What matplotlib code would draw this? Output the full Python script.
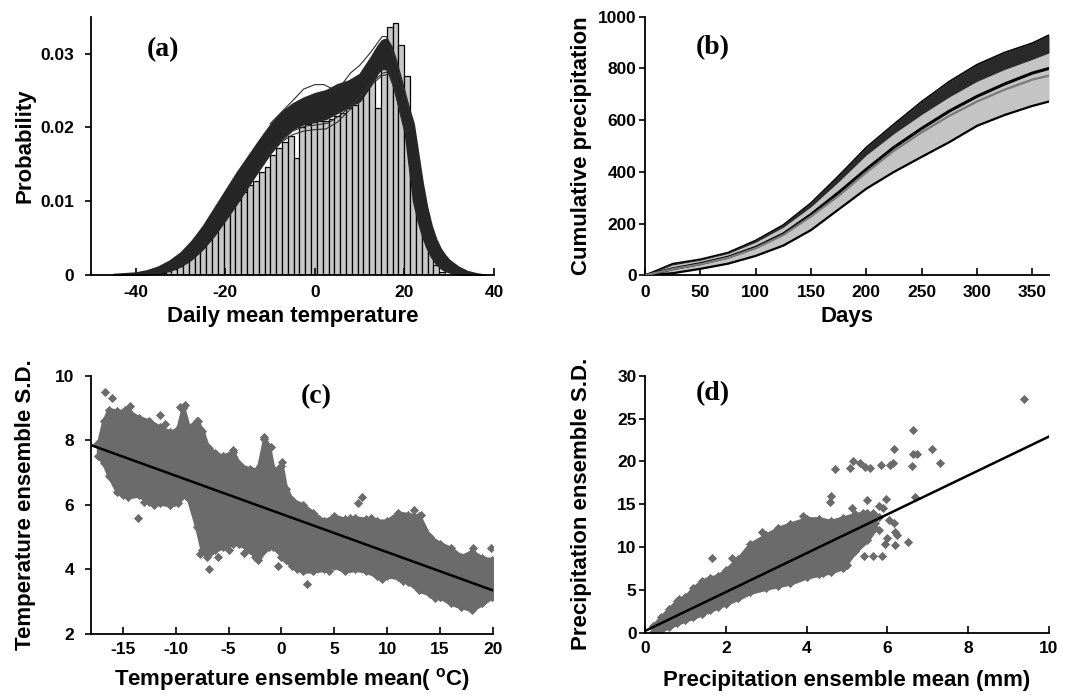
import numpy as np
import matplotlib
matplotlib.use("Agg")
import matplotlib.pyplot as plt
from matplotlib.font_manager import FontProperties

plt.rcParams['axes.unicode_minus'] = False
plt.rcParams['mathtext.fontset'] = 'custom'
plt.rcParams['mathtext.rm'] = 'Liberation Sans:bold'
plt.rcParams['mathtext.bf'] = 'Liberation Sans:bold'
plt.rcParams['mathtext.it'] = 'Liberation Sans:bold'

# ---------------- (a) histogram + ensemble PDFs ----------------
hist_start = -36.6
hist_width = 1.3
hist_heights = [0.0001, 0.0002, 0.0003, 0.0005, 0.0008, 0.0012, 0.0017, 0.0024,
                0.0031, 0.0040, 0.0050, 0.0060, 0.0070, 0.0081, 0.0092, 0.0102,
                0.0112, 0.0122, 0.0127, 0.0140, 0.0147, 0.0163, 0.0172, 0.0180,
                0.0188, 0.0158, 0.0200, 0.0205, 0.0207, 0.0208, 0.0209, 0.0212,
                0.0216, 0.0220, 0.0226, 0.0231, 0.0245, 0.0258, 0.0268, 0.0226,
                0.0279, 0.0336, 0.0342, 0.0311, 0.0270, 0.0180, 0.0100, 0.0062,
                0.0031, 0.0013, 0.0004]

band_x = [-45, -40, -37.5, -35, -32.5, -30, -27.5, -25, -22.5, -20, -17.5, -15,
          -12.5, -10, -7.5, -5, -2.5, 0, 2.5, 5, 7.5, 10, 12.5, 14, 15, 16, 17,
          18, 19, 20, 21, 22, 23, 24, 25, 26, 27, 28, 29, 30, 32, 34, 36, 38]
band_hi = [0.0001, 0.0003, 0.0006, 0.0011, 0.0019, 0.0030, 0.0046, 0.0066,
           0.0090, 0.0114, 0.0138, 0.0160, 0.0182, 0.0203, 0.0220, 0.0232,
           0.0240, 0.0246, 0.0250, 0.0258, 0.0263, 0.0272, 0.0295, 0.0310,
           0.0318, 0.0320, 0.0310, 0.0292, 0.0270, 0.0247, 0.0225, 0.0205,
           0.0165, 0.0125, 0.0092, 0.0067, 0.0049, 0.0036, 0.0027, 0.0020,
           0.0011, 0.0005, 0.0002, 0.0]
band_lo = [0.0, 0.0, 0.0001, 0.0003, 0.0006, 0.0012, 0.0022, 0.0036, 0.0054,
           0.0075, 0.0097, 0.0120, 0.0143, 0.0165, 0.0185, 0.0198, 0.0205,
           0.0208, 0.0212, 0.0220, 0.0228, 0.0236, 0.0258, 0.0274, 0.0280,
           0.0280, 0.0268, 0.0245, 0.0222, 0.0200, 0.0150, 0.0100, 0.0074,
           0.0053, 0.0037, 0.0025, 0.0016, 0.0010, 0.0006, 0.0004, 0.0001,
           0.0, 0.0, 0.0]

outA_x = [-10, -5, -2.5, 0, 2, 4, 6, 8, 10, 12.5, 15, 16, 17, 18, 20, 22]
outA_y = [0.0205, 0.0236, 0.0252, 0.0258, 0.0258, 0.0252, 0.0258, 0.0274,
          0.0284, 0.0302, 0.0323, 0.0323, 0.0310, 0.0290, 0.0250, 0.0200]
outB_x = [-12.5, -10, -7.5, -5, -2.5, 0, 2.5, 5, 7.5, 10, 12.5, 15, 16.5, 18, 19, 20]
outB_y = [0.0143, 0.0163, 0.0180, 0.0190, 0.0195, 0.0197, 0.0198, 0.0207,
          0.0222, 0.0240, 0.0260, 0.0273, 0.0276, 0.0250, 0.0220, 0.0195]
outC_x = [-10, -5, -2, 0, 3, 6, 9, 12, 15, 16.5, 18, 20]
outC_y = [0.0166, 0.0195, 0.0202, 0.0203, 0.0206, 0.0218, 0.0235, 0.0255,
          0.0270, 0.0272, 0.0248, 0.0198]

# ---------------- (b) cumulative precipitation ----------------
days = [0, 25, 50, 75, 100, 125, 150, 175, 200, 225, 250, 275, 300, 325, 350, 365]
prec_dark_top = [0, 45, 62, 88, 135, 195, 280, 385, 495, 585, 672, 750, 815, 862, 898, 929]
prec_gray_top = [0, 40, 58, 84, 128, 186, 265, 362, 465, 548, 622, 690, 750, 796, 835, 860]
prec_mean = [0, 25, 45, 70, 108, 160, 235, 320, 410, 495, 568, 635, 692, 740, 782, 800]
prec_obs = [0, 24, 43, 68, 105, 156, 228, 308, 398, 482, 553, 617, 672, 718, 757, 772]
prec_low = [0, 8, 25, 45, 75, 115, 175, 255, 335, 400, 458, 515, 578, 620, 655, 672]

# ---------------- (c) temperature mean vs S.D. ----------------
tc_x = [-17.3, -16.8, -16.3, -15.5, -14.5, -13.5, -12.5, -11.5, -10.5, -9.8,
        -9.3, -8.8, -8.0, -7.5, -7.0, -6.3, -5.5, -4.6, -4.0, -3.0, -2.2, -1.6,
        -1.2, -0.8, -0.3, 0.0, 0.4, 1.0, 2.0, 3.0, 4.0, 5.0, 6.0, 7.0, 8.0, 9.0,
        10.0, 11.0, 12.0, 13.0, 14.0, 15.0, 16.0, 17.0, 18.0, 19.0, 19.9]
tc_hi = [7.9, 8.6, 8.95, 8.9, 8.9, 8.7, 8.6, 8.4, 8.25, 8.35, 9.0, 8.4, 8.6,
         8.3, 7.8, 7.6, 7.5, 7.65, 7.25, 7.1, 7.1, 8.05, 7.8, 7.1, 7.1, 7.2,
         6.5, 6.15, 6.0, 5.75, 5.5, 5.65, 5.55, 5.6, 5.55, 5.5, 5.5, 5.75, 5.7,
         5.65, 5.0, 4.8, 4.65, 4.4, 4.55, 4.35, 4.3]
tc_lo = [7.5, 7.3, 6.9, 6.4, 6.25, 6.3, 6.1, 6.05, 6.0, 6.05, 6.3, 6.2, 5.3,
         4.6, 4.4, 4.6, 4.7, 4.8, 4.8, 4.6, 4.3, 4.6, 4.7, 4.7, 4.6, 4.4, 4.3,
         4.1, 3.95, 3.95, 4.0, 4.1, 3.95, 4.0, 3.95, 3.8, 3.8, 3.75, 3.6, 3.35,
         3.25, 3.15, 2.95, 2.85, 2.75, 2.95, 3.15]
tc_pts_x = [-16.7, -16.0, -14.3, -11.5, -9.6, -9.1, -7.9, -7.7, -6.8, -4.55,
            -1.6, -0.95, 0.1, -13.6, -6.8, -7.7, -2.5, -0.3, 2.4, 7.6, 7.25,
            19.8, 18.1, 17.9, 15.0, -17.4, -15.0, -12.0, -10.2, -8.4, 12.5, 13.2,
            -14.8, -13.0, -11.0, -5.0, -3.5, 1.5, 4.5, 6.5, 9.5, 11.5, 16.5, 3.5,
            -6.0, -2.0, 8.5, 14.5]
tc_pts_y = [9.5, 9.3, 9.05, 8.78, 9.04, 9.1, 8.6, 8.35, 7.75, 7.7, 8.1, 7.8,
            7.33, 5.58, 4.0, 4.47, 4.4, 4.1, 3.55, 6.25, 6.05, 4.65, 4.65, 2.85,
            3.15, 7.9, 6.3, 6.0, 6.1, 6.4, 5.85, 5.7,
            8.95, 6.1, 8.5, 4.6, 4.5, 4.0, 3.95, 5.6, 3.7, 3.65, 2.95, 5.45,
            4.4, 7.2, 5.6, 3.1]
tc_reg_x = [-18, 20]
tc_reg_y = [7.85, 3.35]

# ---------------- (d) precipitation mean vs S.D. ----------------
pd_x = [0.2, 0.4, 0.6, 0.8, 1.0, 1.2, 1.4, 1.6, 1.8, 2.0, 2.3, 2.6, 3.0, 3.3,
        3.6, 4.0, 4.3, 4.6, 4.9, 5.2, 5.5, 5.7]
pd_hi = [0.8, 1.8, 2.8, 3.7, 4.2, 5.2, 6.0, 6.4, 6.6, 7.3, 8.6, 10.3, 11.4,
         12.2, 12.7, 13.3, 13.3, 13.0, 13.4, 13.8, 14.0, 13.6]
pd_lo = [0.1, 0.3, 0.7, 1.1, 1.5, 1.8, 2.2, 2.6, 3.0, 3.4, 4.0, 4.7, 5.2, 5.5,
         5.8, 6.5, 6.8, 7.1, 7.6, 9.5, 10.8, 12.2]
pd_pts_x = [1.65, 2.15, 4.6, 4.58, 4.7, 5.07, 5.15, 5.32, 5.45, 5.57, 5.84,
            6.06, 6.15, 6.17, 6.64, 6.62, 6.64, 6.74, 7.1, 7.3, 9.39, 5.96,
            6.68, 5.12, 5.4, 5.49, 6.17, 6.2, 6.23, 6.5, 6.2, 5.94, 5.86, 5.65,
            5.43, 5.26, 4.77, 5.0, 5.7, 5.78, 5.98, 5.65, 5.78, 5.2, 0.85, 1.1,
            5.9, 6.05, 5.8, 4.4, 3.9, 2.9]
pd_pts_y = [8.7, 8.7, 15.9, 15.3, 19.1, 19.2, 20.1, 19.8, 19.4, 19.2, 19.6,
            19.6, 19.8, 21.5, 23.7, 19.5, 20.9, 20.9, 21.4, 19.8, 27.3, 15.6,
            15.8, 14.5, 14.0, 15.5, 12.8, 11.8, 11.4, 10.6, 10.2, 10.4, 8.9, 8.9,
            9.0, 10.2, 8.2, 7.9, 12.8, 12.0, 11.0, 14.0, 13.5, 12.4, 3.9, 4.3,
            14.5, 13.2, 14.8, 7.0, 13.6, 11.8]
pd_reg_x = [0, 10]
pd_reg_y = [0.2, 22.9]

# ---------------- figure ----------------
W, H = 1089, 696
fig = plt.figure(figsize=(W / 100, H / 100), dpi=100)
axA = fig.add_axes([91 / W, (H - 275) / H, 403 / W, 258.3 / H])
axB = fig.add_axes([645 / W, (H - 275.3) / H, 404 / W, 258.6 / H])
axC = fig.add_axes([91 / W, (H - 634) / H, 402 / W, 258.3 / H])
axD = fig.add_axes([645 / W, (H - 632.7) / H, 404 / W, 257 / H])

tick_fp = FontProperties(family=['Liberation Sans Narrow', 'Liberation Sans', 'DejaVu Sans'],
                         weight='bold', size=12.5)
lab_fp = FontProperties(family=['Liberation Sans', 'DejaVu Sans'], weight='bold', size=16)
pan_fp = FontProperties(family=['Liberation Serif', 'DejaVu Serif'], weight='bold', size=20)
scat_col = '#6b6b6b'


def style(ax, xpad, ypad):
    for s in ['top', 'right']:
        ax.spines[s].set_visible(False)
    for s in ['left', 'bottom']:
        ax.spines[s].set_linewidth(1.3)
    ax.tick_params(axis='x', direction='in', length=5, width=1.2, pad=xpad)
    ax.tick_params(axis='y', direction='out', length=4, width=1.2, pad=ypad)
    for lab in ax.get_xticklabels() + ax.get_yticklabels():
        lab.set_fontproperties(tick_fp)


# (a)
centers = hist_start + hist_width * np.arange(len(hist_heights))
axA.bar(centers, hist_heights, width=hist_width, color='#c8c8c8',
        edgecolor='black', linewidth=0.9, zorder=1)
axA.fill_between(band_x, band_lo, band_hi, color='#262626', edgecolor='#262626',
                 linewidth=1.5, zorder=2)
for ox, oy in [(outA_x, outA_y), (outB_x, outB_y), (outC_x, outC_y)]:
    axA.plot(ox, oy, color='#2e2e2e', lw=0.8, zorder=3)
axA.set_xlim(-50, 40)
axA.set_ylim(0, 0.035)
axA.set_xticks([-40, -20, 0, 20, 40])
axA.set_yticks([0, 0.01, 0.02, 0.03])
axA.set_yticklabels(['0', '0.01', '0.02', '0.03'])
style(axA, 7, 8)
axA.set_xlabel('Daily mean temperature', fontproperties=lab_fp)
axA.xaxis.set_label_coords(0.5, -0.161)
axA.xaxis.label.set_va('center')
axA.set_ylabel('Probability', fontproperties=lab_fp)
axA.yaxis.set_label_coords(-0.164, 0.5)
axA.yaxis.label.set_va('center')
axA.text(0.179, 0.871, '(a)', transform=axA.transAxes, fontproperties=pan_fp,
         ha='center', va='center')

# (b)
axB.fill_between(days, prec_low, prec_gray_top, color='#c4c4c4', lw=0, zorder=1)
axB.fill_between(days, prec_gray_top, prec_dark_top, color='#2a2a2a', lw=0, zorder=2)
axB.plot(days, prec_dark_top, color='black', lw=1.2, zorder=3)
axB.plot(days, prec_low, color='black', lw=1.6, zorder=3)
axB.plot(days, prec_mean, color='black', lw=2.2, zorder=4)
axB.plot(days, prec_obs, color='#7a7a7a', lw=1.6, zorder=5)
axB.set_xlim(0, 365)
axB.set_ylim(0, 1000)
axB.set_xticks(range(0, 351, 50))
axB.set_yticks(range(0, 1001, 200))
style(axB, 7, 2)
axB.set_xlabel('Days', fontproperties=lab_fp)
axB.xaxis.set_label_coords(0.5, -0.161)
axB.xaxis.label.set_va('center')
axB.set_ylabel('Cumulative precipitation', fontproperties=lab_fp)
axB.yaxis.set_label_coords(-0.156, 0.5)
axB.yaxis.label.set_va('center')
axB.text(0.168, 0.879, '(b)', transform=axB.transAxes, fontproperties=pan_fp,
         ha='center', va='center')

# (c)
axC.fill_between(tc_x, tc_lo, tc_hi, color=scat_col, edgecolor=scat_col,
                 linewidth=3, zorder=1)
axC.scatter(tc_x, tc_hi, marker='D', s=22, color=scat_col, lw=0, zorder=2)
axC.scatter(tc_x, tc_lo, marker='D', s=22, color=scat_col, lw=0, zorder=2)
axC.scatter(tc_pts_x, tc_pts_y, marker='D', s=22, color=scat_col, lw=0, zorder=2)
axC.plot(tc_reg_x, tc_reg_y, color='black', lw=1.8, zorder=3)
axC.set_xlim(-18, 20)
axC.set_ylim(2, 10)
axC.set_xticks(range(-15, 21, 5))
axC.set_yticks(range(2, 11, 2))
style(axC, 6, 8)
axC.set_xlabel('Temperature ensemble mean( $^{\\rm o}$C)', fontproperties=lab_fp)
axC.xaxis.set_label_coords(0.5, -0.178)
axC.xaxis.label.set_va('center')
axC.set_ylabel('Temperature ensemble S.D.', fontproperties=lab_fp)
axC.yaxis.set_label_coords(-0.164, 0.5)
axC.yaxis.label.set_va('center')
axC.text(0.561, 0.919, '(c)', transform=axC.transAxes, fontproperties=pan_fp,
         ha='center', va='center')

# (d)
axD.fill_between(pd_x, pd_lo, pd_hi, color=scat_col, edgecolor=scat_col,
                 linewidth=3, zorder=1)
axD.scatter(pd_x, pd_hi, marker='D', s=22, color=scat_col, lw=0, zorder=2)
axD.scatter(pd_x, pd_lo, marker='D', s=22, color=scat_col, lw=0, zorder=2)
axD.scatter(pd_pts_x, pd_pts_y, marker='D', s=22, color=scat_col, lw=0, zorder=2)
axD.plot(pd_reg_x, pd_reg_y, color='black', lw=1.8, zorder=3)
axD.set_xlim(0, 10)
axD.set_ylim(0, 30)
axD.set_xticks(range(0, 11, 2))
axD.set_yticks(range(0, 31, 5))
style(axD, 6, 2)
axD.set_xlabel('Precipitation ensemble mean (mm)', fontproperties=lab_fp)
axD.xaxis.set_label_coords(0.5, -0.185)
axD.xaxis.label.set_va('center')
axD.set_ylabel('Precipitation ensemble S.D.', fontproperties=lab_fp)
axD.yaxis.set_label_coords(-0.156, 0.5)
axD.yaxis.label.set_va('center')
axD.text(0.168, 0.932, '(d)', transform=axD.transAxes, fontproperties=pan_fp,
         ha='center', va='center')

fig.savefig('out.png', dpi=100)
